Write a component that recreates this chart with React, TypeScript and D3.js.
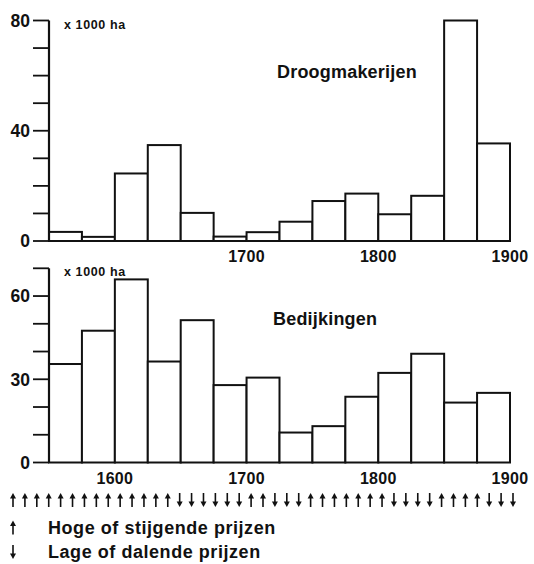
import React from "react";
import * as d3 from "d3";

// 25-year periods, start year of each bar
const periods = [1550, 1575, 1600, 1625, 1650, 1675, 1700, 1725, 1750, 1775, 1800, 1825, 1850, 1875];
const periodLength = 25;

// x 1000 ha
const droogmakerijen = [3.3, 1.5, 24.5, 34.8, 10.2, 1.6, 3.2, 7, 14.5, 17.2, 9.7, 16.4, 80, 35.4];
const bedijkingen = [35.5, 47.5, 66, 36.4, 51.3, 27.9, 30.6, 10.8, 13.1, 23.7, 32.3, 39.2, 21.6, 25.1];

const topYearLabels = [1700, 1800, 1900];
const bottomYearLabels = [1600, 1700, 1800, 1900];
const topValueLabels = [0, 40, 80];
const bottomValueLabels = [0, 30, 60];

// U = hoge of stijgende prijzen, D = lage of dalende prijzen
const priceTrend = "UUUUUUUUUUUUUUDDDDDDUUDDDUUUUUUUDDDDUUUUDDD".split("");

const FONT = "'Liberation Sans', Arial, Helvetica, sans-serif";

const x = d3.scaleLinear().domain([1550, 1900]).range([49, 510]);

interface PanelProps {
  values: number[];
  max: number;
  bottom: number;
  top: number;
  valueLabels: number[];
  yearLabels: number[];
  title: string;
  titleX: number;
  titleY: number;
}

const Panel: React.FC<PanelProps> = ({ values, max, bottom, top, valueLabels, yearLabels, title, titleX, titleY }) => {
  const y = d3.scaleLinear().domain([0, max]).range([bottom, top]);
  const ticks = d3.range(0, max + 1, 10);
  return (
    <g>
      {periods.map((p, i) => (
        <rect
          key={p}
          x={x(p)}
          y={y(values[i])}
          width={x(p + periodLength) - x(p)}
          height={y(0) - y(values[i])}
          fill="#fff"
          stroke="#111"
          strokeWidth={2}
        />
      ))}
      <line x1={x(1550)} x2={x(1550)} y1={y(max)} y2={y(0)} stroke="#111" strokeWidth={2.2} />
      {ticks.map((t) => (
        <line key={t} x1={33} x2={x(1550)} y1={y(t)} y2={y(t)} stroke="#111" strokeWidth={1.8} />
      ))}
      {valueLabels.map((t) => (
        <text key={t} x={30} y={y(t)} dy="0.36em" textAnchor="end" fontSize={17.5} fontWeight="bold" fontFamily={FONT} fill="#111">
          {t}
        </text>
      ))}
      {yearLabels.map((yr) => (
        <text key={yr} x={x(yr)} y={bottom + 21} textAnchor="middle" fontSize={16} fontWeight="bold" fontFamily={FONT} fill="#111" letterSpacing={0.3}>
          {yr}
        </text>
      ))}
      <text x={64} y={top + 8} fontSize={12.5} fontWeight="bold" fontFamily={FONT} fill="#111" letterSpacing={0.6}>
        x 1000 ha
      </text>
      <text x={titleX} y={titleY} fontSize={18} fontWeight="bold" fontFamily={FONT} fill="#111" letterSpacing={0.2}>
        {title}
      </text>
    </g>
  );
};

const Arrow: React.FC<{ cx: number; cy: number; up: boolean }> = ({ cx, cy, up }) => {
  const h = 7;
  const tip = up ? cy - h : cy + h;
  const tail = up ? cy + h : cy - h;
  const head = up ? 5.5 : -5.5;
  return (
    <g>
      <line x1={cx} x2={cx} y1={tail} y2={tip + head * 0.6} stroke="#111" strokeWidth={1.6} />
      <path d={`M${cx - 3},${tip + head} L${cx},${tip} L${cx + 3},${tip + head} Z`} fill="#111" />
    </g>
  );
};

export default function App() {
  const ax = d3
    .scalePoint<number>()
    .domain(priceTrend.map((_, i) => i))
    .range([13, 513]);
  return (
    <div style={{ position: "absolute", left: 0, top: 0 }}>
      <svg width={534} height={564} style={{ display: "block", background: "#fff" }}>
        <Panel
          values={droogmakerijen}
          max={80}
          bottom={241}
          top={20.5}
          valueLabels={topValueLabels}
          yearLabels={topYearLabels}
          title="Droogmakerijen"
          titleX={277}
          titleY={78}
        />
        <Panel
          values={bedijkingen}
          max={70}
          bottom={462.5}
          top={268.3}
          valueLabels={bottomValueLabels}
          yearLabels={bottomYearLabels}
          title="Bedijkingen"
          titleX={273}
          titleY={325}
        />
        {priceTrend.map((d, i) => (
          <Arrow key={i} cx={ax(i) ?? 0} cy={500} up={d === "U"} />
        ))}
        <Arrow cx={13} cy={527.5} up={true} />
        <Arrow cx={13} cy={552} up={false} />
        <text x={48} y={534} fontSize={18} fontWeight="bold" fontFamily={FONT} fill="#111" letterSpacing={0.55}>
          Hoge of stijgende prijzen
        </text>
        <text x={48} y={558} fontSize={18} fontWeight="bold" fontFamily={FONT} fill="#111" letterSpacing={0.55}>
          Lage of dalende prijzen
        </text>
      </svg>
    </div>
  );
}
